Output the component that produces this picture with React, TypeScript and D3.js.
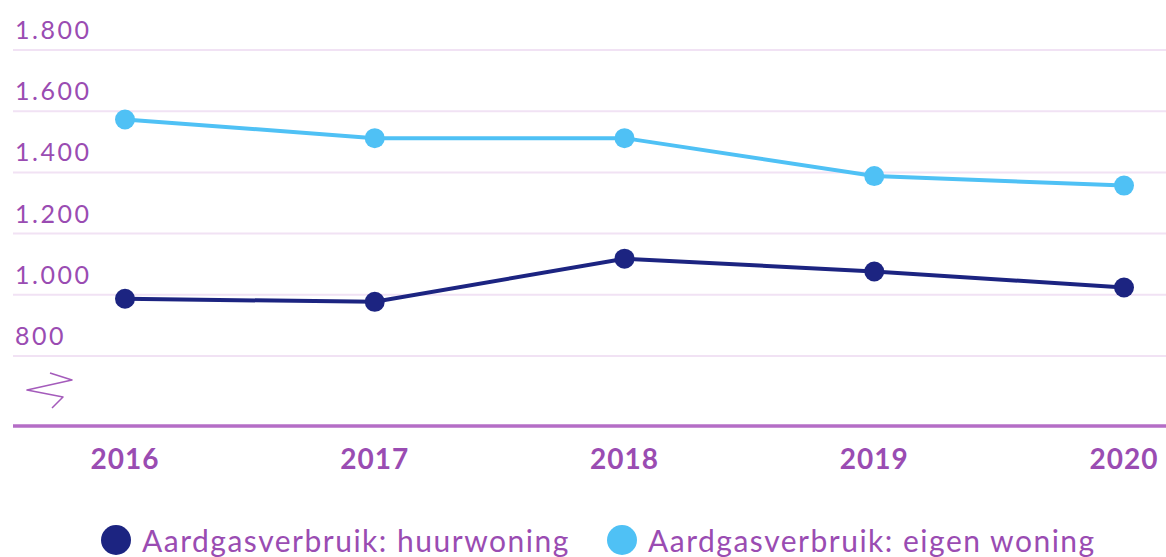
import * as d3 from "d3";
import { useEffect, useRef } from "react";

const years = ["2016", "2017", "2018", "2019", "2020"];
const huurwoning = [987, 977, 1118, 1076, 1024];
const eigenWoning = [1573, 1512, 1512, 1388, 1357];
const yTicks = [800, 1000, 1200, 1400, 1600, 1800];
const seriesNames = ["Aardgasverbruik: huurwoning", "Aardgasverbruik: eigen woning"];
const seriesColors = ["#1c2481", "#4fc1f5"];

const WIDTH = 1166;
const HEIGHT = 557;
const PURPLE = "#9a4cb2";
const FONT = "Lato, 'Open Sans', sans-serif";

export default function App() {
  const svgRef = useRef<SVGSVGElement>(null);

  useEffect(() => {
    const svg = d3.select(svgRef.current);
    svg.selectAll("*").remove();

    const x = d3.scalePoint<string>().domain(years).range([125, 1124]);
    const y = d3.scaleLinear().domain([800, 1800]).range([356, 50]);
    const baseY = y(800) + 70;
    const gridLeft = 13;

    // gridlines
    svg
      .append("g")
      .selectAll("line")
      .data(yTicks)
      .join("line")
      .attr("x1", gridLeft)
      .attr("x2", WIDTH)
      .attr("y1", (d) => y(d))
      .attr("y2", (d) => y(d))
      .attr("stroke", "#f1e2f4")
      .attr("stroke-width", 2);

    // y labels, sitting above their gridline
    svg
      .append("g")
      .selectAll("text")
      .data(yTicks)
      .join("text")
      .attr("x", 15)
      .attr("y", (d) => y(d) - 11)
      .attr("fill", PURPLE)
      .attr("font-family", FONT)
      .attr("font-size", 25)
      .attr("letter-spacing", 2.5)
      .text((d) => d3.format(",")(d).replace(/,/g, "."));

    // axis break symbol
    const zig = d3.line()([
      [50, baseY - 53],
      [72, baseY - 46],
      [27, baseY - 36],
      [63, baseY - 29],
      [52, baseY - 18],
    ]);
    svg
      .append("path")
      .attr("d", zig)
      .attr("fill", "none")
      .attr("stroke", "#a45bbb")
      .attr("stroke-width", 1.5)
      .attr("stroke-linejoin", "round");

    // baseline
    svg
      .append("line")
      .attr("x1", gridLeft)
      .attr("x2", WIDTH)
      .attr("y1", baseY)
      .attr("y2", baseY)
      .attr("stroke", "#b46dc6")
      .attr("stroke-width", 3.5);

    // x labels
    svg
      .append("g")
      .selectAll("text")
      .data(years)
      .join("text")
      .attr("x", (d) => x(d)!)
      .attr("y", baseY + 43)
      .attr("text-anchor", "middle")
      .attr("fill", PURPLE)
      .attr("font-family", FONT)
      .attr("font-weight", "bold")
      .attr("font-size", 28)
      .attr("letter-spacing", 1)
      .text((d) => d);

    // lines + markers
    const all = [huurwoning, eigenWoning];
    const line = d3
      .line<number>()
      .x((_, i) => x(years[i])!)
      .y((d) => y(d));

    all.forEach((vals, s) => {
      svg
        .append("path")
        .attr("d", line(vals))
        .attr("fill", "none")
        .attr("stroke", seriesColors[s])
        .attr("stroke-width", 4);
      svg
        .append("g")
        .selectAll("circle")
        .data(vals)
        .join("circle")
        .attr("cx", (_, i) => x(years[i])!)
        .attr("cy", (d) => y(d))
        .attr("r", 10)
        .attr("fill", seriesColors[s]);
    });

    // legend
    const legendX = [116, 622];
    const lg = svg
      .append("g")
      .selectAll("g")
      .data(seriesNames)
      .join("g")
      .attr("transform", (_, i) => `translate(${legendX[i]},540)`);
    lg.append("circle")
      .attr("r", 15)
      .attr("fill", (_, i) => seriesColors[i]);
    lg.append("text")
      .attr("x", 26)
      .attr("y", 12)
      .attr("fill", PURPLE)
      .attr("font-family", FONT)
      .attr("font-size", 30)
      .attr("letter-spacing", 1.5)
      .text((d) => d);
  }, []);

  return (
    <div style={{ position: "absolute", left: 0, top: 0 }}>
      <svg ref={svgRef} width={WIDTH} height={HEIGHT} style={{ display: "block", background: "#fff" }} />
    </div>
  );
}
